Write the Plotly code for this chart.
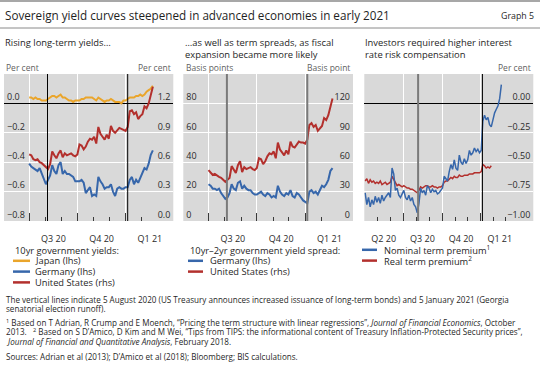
import plotly.graph_objects as go
import pandas as pd

# ---------------- data ----------------
p12_dates = pd.date_range("2020-07-01", periods=60, freq="4D")   # 1 Jul 2020 .. 22 Feb 2021
japan_10y = [0.04, 0.04, 0.03, 0.04, 0.03, 0.03, 0.02, 0.02,
             0.02, 0.03, 0.04, 0.05, 0.05, 0.04, 0.05, 0.06,
             0.04, 0.04, 0.03, 0.02, 0.02, 0.01, 0.02,
             0.02, 0.02, 0.03, 0.03, 0.04, 0.04, 0.04, 0.04,
             0.03, 0.02, 0.04, 0.03, 0.02, 0.01, 0.02, 0.02,
             0.03, 0.02, 0.01, 0.01, 0.01, 0.00, 0.02,
             0.02, 0.03, 0.04, 0.04, 0.04, 0.05, 0.05, 0.06,
             0.05, 0.06, 0.08, 0.09, 0.10, 0.12]
germany_10y = [-0.41, -0.43, -0.44, -0.45, -0.46, -0.44, -0.48, -0.52,
               -0.55, -0.52, -0.49, -0.42, -0.46, -0.48, -0.42, -0.40,
               -0.48, -0.46, -0.48, -0.48, -0.49, -0.50, -0.53,
               -0.53, -0.53, -0.52, -0.54, -0.61, -0.59, -0.57, -0.63,
               -0.62, -0.63, -0.50, -0.53, -0.55, -0.58, -0.57, -0.57,
               -0.55, -0.60, -0.63, -0.58, -0.57, -0.58, -0.58,
               -0.57, -0.57, -0.52, -0.50, -0.55, -0.52, -0.54, -0.51,
               -0.47, -0.44, -0.45, -0.41, -0.35, -0.32]
us_10y = [0.68, 0.67, 0.63, 0.62, 0.63, 0.60, 0.59, 0.57,
          0.54, 0.53, 0.58, 0.71, 0.67, 0.64, 0.69, 0.72,
          0.65, 0.69, 0.67, 0.68, 0.69, 0.67, 0.66,
          0.68, 0.78, 0.77, 0.73, 0.76, 0.81, 0.84, 0.83,
          0.86, 0.79, 0.96, 0.89, 0.86, 0.83, 0.88, 0.84,
          0.97, 0.92, 0.90, 0.92, 0.95, 0.94, 0.93,
          0.92, 0.96, 1.12, 1.13, 1.09, 1.11, 1.04, 1.07,
          1.09, 1.17, 1.15, 1.20, 1.29, 1.37]
germany_spread = [25, 24, 22, 22, 21, 22, 19, 17,
                  15, 16, 19, 25, 22, 21, 26, 27,
                  22, 24, 22, 21, 21, 19, 18,
                  18, 19, 20, 18, 17, 19, 18, 16,
                  17, 16, 24, 20, 18, 17, 19, 18,
                  21, 17, 16, 19, 18, 16, 14,
                  13, 12, 20, 21, 19, 20, 18, 21,
                  24, 23, 25, 28, 34, 36]
us_spread = [52, 50, 47, 48, 46, 45, 44, 42,
             40, 42, 44, 56, 52, 49, 57, 61,
             50, 55, 53, 54, 55, 53, 52,
             54, 64, 63, 58, 61, 66, 69, 68,
             71, 64, 80, 73, 70, 67, 72, 68,
             81, 76, 75, 78, 81, 80, 80,
             79, 83, 98, 100, 96, 98, 92, 95,
             97, 105, 103, 108, 117, 125]

p3_dates = pd.date_range("2020-04-01", periods=82, freq="4D")    # 1 Apr 2020 .. 19 Feb 2021
nominal_tp = [-0.76, -0.86, -0.80, -0.88, -0.82, -0.86, -0.79, -0.84,
              -0.80, -0.85, -0.78, -0.83, -0.80, -0.78, -0.76, -0.80,
              -0.55, -0.60, -0.74, -0.72, -0.78, -0.80, -0.77,
              -0.74, -0.80, -0.82, -0.78, -0.83, -0.80, -0.86, -0.88,
              -0.93, -0.85, -0.72, -0.76, -0.74, -0.78, -0.70, -0.72,
              -0.76, -0.73, -0.75, -0.74, -0.77, -0.76, -0.74,
              -0.72, -0.62, -0.64, -0.66, -0.58, -0.52, -0.56, -0.48,
              -0.55, -0.57, -0.44, -0.50, -0.52, -0.47, -0.51,
              -0.48, -0.40, -0.44, -0.42, -0.38, -0.41, -0.39, -0.42,
              -0.40, -0.15, -0.10, -0.14, -0.12, -0.18, -0.20, -0.14,
              -0.08, -0.05, -0.02, 0.04, 0.16]
real_tp = [-0.66, -0.64, -0.68, -0.65, -0.67, -0.66, -0.68, -0.67,
           -0.68, -0.66, -0.69, -0.68, -0.67, -0.69, -0.68, -0.67,
           -0.62, -0.65, -0.68, -0.70, -0.69, -0.70, -0.71,
           -0.70, -0.71, -0.72, -0.72, -0.73, -0.73, -0.74, -0.75,
           -0.76, -0.74, -0.71, -0.72, -0.71, -0.70, -0.70, -0.71,
           -0.71, -0.70, -0.71, -0.71, -0.72, -0.71, -0.71,
           -0.70, -0.67, -0.66, -0.66, -0.64, -0.63, -0.64, -0.62,
           -0.63, -0.63, -0.61, -0.62, -0.62, -0.61, -0.61,
           -0.61, -0.60, -0.60, -0.60, -0.59, -0.59, -0.59, -0.59,
           -0.58, -0.52, -0.53, -0.55, -0.54, -0.55, -0.53]

event_dates = ["2020-08-05", "2021-01-05"]

p12_range = ["2020-05-14", "2021-04-02"]
p3_range = ["2020-03-30", "2021-05-06"]
p12_month_ticks = ["2020-08-01", "2020-09-01", "2020-11-01", "2020-12-01", "2021-02-01"]
p12_month_text = ["Q3 20", "", "Q4 20", "", "Q1 21"]
p12_quarter_ticks = ["2020-07-01", "2020-10-01", "2021-01-01"]
p3_month_ticks = ["2020-05-01", "2020-06-01", "2020-08-01", "2020-09-01",
                  "2020-11-01", "2020-12-01", "2021-02-01", "2021-03-01"]
p3_month_text = ["Q2 20", "", "Q3 20", "", "Q4 20", "", "Q1 21", ""]
p3_quarter_ticks = ["2020-04-01", "2020-07-01", "2020-10-01", "2021-01-01"]

p1_left_ticks = [-0.8, -0.6, -0.4, -0.2, 0.0]
p1_right_ticks = [0.0, 0.3, 0.6, 0.9, 1.2]
p2_left_ticks = [0, 20, 40, 60, 80]
p2_right_ticks = [0, 30, 60, 90, 120]
p3_ticks = [-1.0, -0.75, -0.5, -0.25, 0.0]

# ---------------- styling / layout ----------------
W, H = 540, 382
FONT = "Open Sans"
BLUE = "#3767ab"
RED = "#b3302d"
ORANGE = "#eaa52b"
TXT = "#1f1f1f"
GREY_TXT = "#5f5f5f"
TICK_TXT = "#2a2a2a"


def px(x):
    return x / W


def py(y):
    return 1 - y / H


X_DOM = [[4, 173.3], [183.3, 353], [364.3, 533.3]]
Y_DOM = [py(221), py(74)]


def day_shift(rng, dom, days=15):
    span = (pd.Timestamp(rng[1]) - pd.Timestamp(rng[0])).days
    return int(round(days * (dom[1] - dom[0]) / span))


def xprops(dom, rng, mt, mtext, qt):
    return dict(domain=[px(dom[0]), px(dom[1])], type="date", range=rng,
                tickmode="array", tickvals=mt, ticktext=mtext,
                ticks="inside", ticklen=4, tickwidth=1, tickcolor="#3a3a3a",
                showgrid=False, zeroline=False, showline=False,
                ticklabelshift=day_shift(rng, dom), ticklabelstandoff=11,
                tickfont=dict(size=9, color=TICK_TXT),
                minor=dict(tickmode="array", tickvals=qt, ticks="inside", ticklen=8,
                           tickwidth=1, tickcolor="#3a3a3a", showgrid=True,
                           gridcolor="white", gridwidth=1))


def yprops(anchor, rng, tv, fmt, side="left", overlaying=None, zero=False, grid=True):
    d = dict(anchor=anchor, range=rng, tickmode="array", tickvals=tv, tickformat=fmt,
             side=side, ticks="", ticklabelposition="inside top",
             showgrid=grid, gridcolor="white", gridwidth=1,
             zeroline=zero, zerolinecolor="black", zerolinewidth=1,
             showline=False, tickfont=dict(size=9, color=TICK_TXT))
    if overlaying:
        d["overlaying"] = overlaying
    else:
        d["domain"] = Y_DOM
    return d


fig = go.Figure()

# panel 1
fig.add_trace(go.Scatter(x=p12_dates, y=japan_10y, mode="lines", name="Japan (lhs)",
                         line=dict(color=ORANGE, width=2), xaxis="x", yaxis="y", showlegend=False))
fig.add_trace(go.Scatter(x=p12_dates, y=germany_10y, mode="lines", name="Germany (lhs)",
                         line=dict(color=BLUE, width=2), xaxis="x", yaxis="y", showlegend=False))
fig.add_trace(go.Scatter(x=p12_dates, y=us_10y, mode="lines", name="United States (rhs)",
                         line=dict(color=RED, width=2), xaxis="x", yaxis="y2", showlegend=False))
# panel 2
fig.add_trace(go.Scatter(x=p12_dates, y=germany_spread, mode="lines", name="Germany (lhs)",
                         line=dict(color=BLUE, width=2), xaxis="x2", yaxis="y3", showlegend=False))
fig.add_trace(go.Scatter(x=p12_dates, y=us_spread, mode="lines", name="United States (rhs)",
                         line=dict(color=RED, width=2), xaxis="x2", yaxis="y4", showlegend=False))
# panel 3
fig.add_trace(go.Scatter(x=p3_dates, y=real_tp, mode="lines", name="Real term premium",
                         line=dict(color=RED, width=1.5), xaxis="x3", yaxis="y5", showlegend=False))
fig.add_trace(go.Scatter(x=p3_dates, y=nominal_tp, mode="lines", name="Nominal term premium",
                         line=dict(color=BLUE, width=1.5), xaxis="x3", yaxis="y5", showlegend=False))

fig.update_layout(
    width=W, height=H, autosize=False,
    margin=dict(l=0, r=0, t=0, b=0),
    paper_bgcolor="white", plot_bgcolor="#d9d9d9",
    font=dict(family=FONT, color=TXT),
    showlegend=False,
    xaxis=xprops(X_DOM[0], p12_range, p12_month_ticks, p12_month_text, p12_quarter_ticks) | dict(anchor="y"),
    xaxis2=xprops(X_DOM[1], p12_range, p12_month_ticks, p12_month_text, p12_quarter_ticks) | dict(anchor="y3"),
    xaxis3=xprops(X_DOM[2], p3_range, p3_month_ticks, p3_month_text, p3_quarter_ticks) | dict(anchor="y5"),
    yaxis=yprops("x", [-0.8, 0.2], p1_left_ticks, ".1f", zero=True),
    yaxis2=yprops("x", [0, 1.5], p1_right_ticks, ".1f", side="right", overlaying="y", grid=False),
    yaxis3=yprops("x2", [0, 100], p2_left_ticks, "d"),
    yaxis4=yprops("x2", [0, 150], p2_right_ticks, "d", side="right", overlaying="y3", grid=False),
    yaxis5=yprops("x3", [-1.0, 0.25], p3_ticks, ".2f", side="right", zero=True),
)

# event lines
GREY_LINE = "#7a7a7a"
event_styles = {
    "x": [("black", 1), ("black", 1)],
    "x2": [(GREY_LINE, 2), (GREY_LINE, 2)],
    "x3": [(GREY_LINE, 2), ("black", 1)],
}
yref_of = {"x": "y domain", "x2": "y3 domain", "x3": "y5 domain"}
for xr, styles in event_styles.items():
    for d, (c, w) in zip(event_dates, styles):
        fig.add_shape(type="line", xref=xr, yref=yref_of[xr], x0=d, x1=d, y0=0, y1=1,
                      line=dict(color=c, width=w), layer="above")

# header rules
fig.add_shape(type="line", xref="paper", yref="paper", x0=0, x1=1, y0=py(1), y1=py(1),
              line=dict(color="#8a8a8a", width=1.5))
fig.add_shape(type="line", xref="paper", yref="paper", x0=0, x1=1, y0=py(28), y1=py(28),
              line=dict(color="#8a8a8a", width=1))

ann = []


def text(x, y, s, size, color=TXT, xanchor="left"):
    ann.append(dict(x=px(x), y=py(y), xref="paper", yref="paper", text=s, showarrow=False,
                    xanchor=xanchor, yanchor="middle", font=dict(size=size, color=color, family=FONT)))


text(3, 15, "Sovereign yield curves steepened in advanced economies in early 2021", 11.7)
text(536, 16, "Graph 5", 8.8, xanchor="right")

SUB = 9.4
text(3, 42, "Rising long-term yields…", SUB)
text(183, 42, "…as well as term spreads, as fiscal", SUB)
text(183, 54.5, "expansion became more likely", SUB)
text(363, 42, "Investors required higher interest", SUB)
text(363, 54.5, "rate risk compensation", SUB)

text(4, 67, "Per cent", 8.5, GREY_TXT)
text(173, 67, "Per cent", 8.5, GREY_TXT, "right")
text(184, 67, "Basis points", 8.5, GREY_TXT)
text(352, 67, "Basis point", 8.5, GREY_TXT, "right")
text(533, 67, "Per cent", 8.5, GREY_TXT, "right")

# legends (swatch + label)
LEG = 9.3
legends = [
    (13, 30, 33, "10yr government yields:", 250,
     [("Japan (lhs)", ORANGE), ("Germany (lhs)", BLUE), ("United States (rhs)", RED)]),
    (188, 203, 208, "10yr–2yr government yield spread:", 250,
     [("Germany (lhs)", BLUE), ("United States (rhs)", RED)]),
    (362, 377, 382, None, 239,
     [("Nominal term premium<sup>1</sup>", BLUE), ("Real term premium<sup>2</sup>", RED)]),
]
for x0, x1, xt, title, ytitle, items in legends:
    if title:
        text(x0, ytitle, title, LEG)
    for i, (lab, col) in enumerate(items):
        yy = ytitle + 10.8 * (i + 1)
        fig.add_shape(type="line", xref="paper", yref="paper", x0=px(x0), x1=px(x1),
                      y0=py(yy), y1=py(yy), line=dict(color=col, width=2.5))
        text(xt, yy, lab, LEG)

FN = 8.1
text(4, 299, "The vertical lines indicate 5 August 2020 (US Treasury announces increased issuance of long-term bonds) and 5 January 2021 (Georgia", FN)
text(4, 308.5, "senatorial election runoff).", FN)
text(4, 322, "<sup>1</sup> Based on T Adrian, R Crump and E Moench, “Pricing the term structure with linear regressions”, <i>Journal of Financial Economics</i>, October", FN)
text(4, 331.5, "2013.   <sup>2</sup> Based on S D’Amico, D Kim and M Wei, “Tips from TIPS: the informational content of Treasury Inflation-Protected Security prices”,", FN)
text(4, 341, "<i>Journal of Financial and Quantitative Analysis</i>, February 2018.", FN)
text(4, 356, "Sources: Adrian et al (2013); D’Amico et al (2018); Bloomberg; BIS calculations.", FN)

fig.update_layout(annotations=ann)

fig.write_html("out.html", config={"displayModeBar": False},
               post_script="document.body.style.margin='0px';document.body.style.overflow='hidden';")
